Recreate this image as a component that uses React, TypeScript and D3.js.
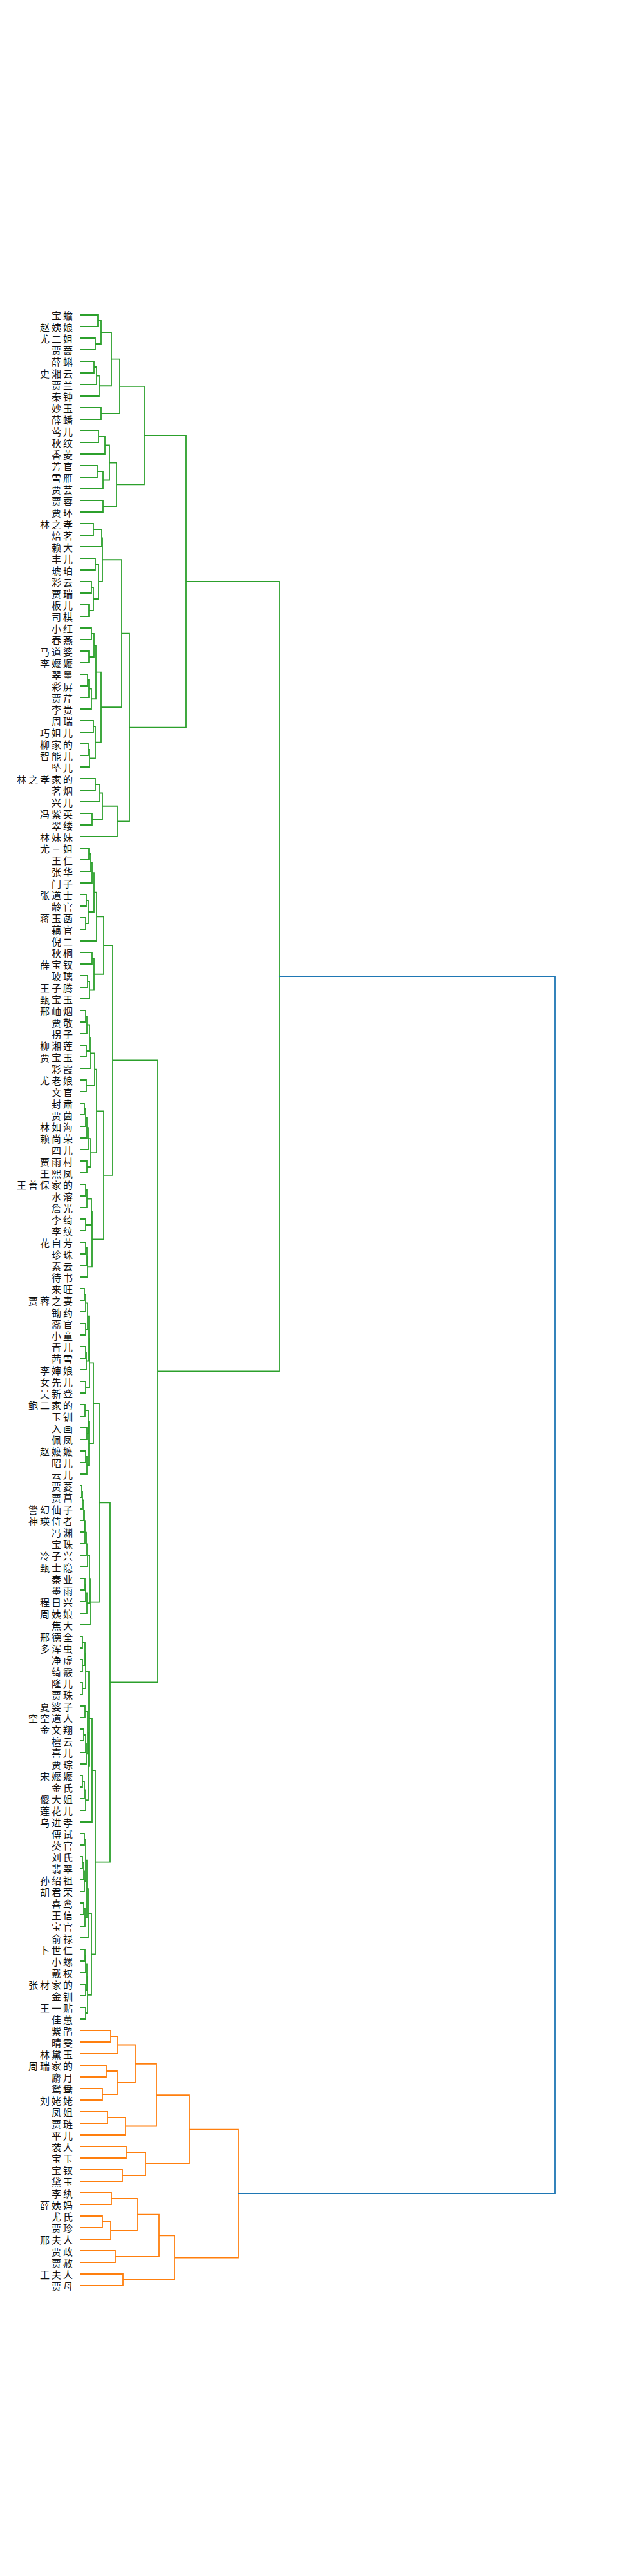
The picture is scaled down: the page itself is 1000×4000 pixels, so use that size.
import React from "react";
import * as d3 from "d3";

type Node = number | [number, Node, Node];

// leaf labels, top to bottom
const leaves = [
  "宝蟾", "赵姨娘", "尤二姐", "贾蔷", "薛蝌", "史湘云", "贾兰", "秦钟", "妙玉", "薛蟠",
  "莺儿", "秋纹", "香菱", "芳官", "雪雁", "贾芸", "贾蓉", "贾环", "林之孝", "焙茗",
  "赖大", "丰儿", "琥珀", "彩云", "贾瑞", "板儿", "司棋", "小红", "春燕", "马道婆",
  "李嬷嬷", "翠墨", "彩屏", "贾芹", "李贵", "周瑞", "巧姐儿", "柳家的", "智能儿", "坠儿",
  "林之孝家的", "茗烟", "兴儿", "冯紫英", "翠缕", "林妹妹", "尤三姐", "王仁", "张华", "门子",
  "张道士", "龄官", "蒋玉菡", "藕官", "倪二", "秋桐", "薛宝钗", "玻璃", "王子腾", "甄宝玉",
  "邢岫烟", "贾敬", "拐子", "柳湘莲", "贾宝玉", "彩霞", "尤老娘", "文官", "封肃", "贾菌",
  "林如海", "赖尚荣", "四儿", "贾雨村", "王熙凤", "王善保家的", "水溶", "詹光", "李绮", "李纹",
  "花自芳", "珍珠", "素云", "待书", "来旺", "贾蓉之妻", "锄药", "蕊官", "小童", "青儿",
  "茜雪", "李婶娘", "女先儿", "吴新登", "鲍二家的", "玉钏", "入画", "佩凤", "赵嬷嬷", "昭儿",
  "云儿", "贾菱", "贾菖", "警幻仙子", "神瑛侍者", "冯渊", "宝珠", "冷子兴", "甄士隐", "秦业",
  "墨雨", "程日兴", "周姨娘", "焦大", "邢德全", "多浑虫", "净虚", "绮霰", "隆儿", "贾珠",
  "夏婆子", "空空道人", "金文翔", "檀云", "喜儿", "贾琮", "宋嬷嬷", "金氏", "傻大姐", "莲花儿",
  "乌进孝", "傅试", "葵官", "刘氏", "翡翠", "孙绍祖", "胡君荣", "喜鸾", "王信", "宝官",
  "俞禄", "卜世仁", "小螺", "戴权", "张材家的", "金钏", "王一贴", "佳蕙", "紫鹃", "晴雯",
  "林黛玉", "周瑞家的", "麝月", "鸳鸯", "刘姥姥", "凤姐", "贾琏", "平儿", "袭人", "宝玉",
  "宝钗", "黛玉", "李纨", "薛姨妈", "尤氏", "贾珍", "邢夫人", "贾政", "贾赦", "王夫人",
  "贾母",
];

// merges: [distance, left, right], leaves by index
const partA: Node = [0.99,
  [0.61,
    [0.48, [0.32, [0.27, 0, 1], [0.23, 2, 3]], [0.29, [0.25, [0.21, 4, 5], 6], 7]],
    [0.32, 8, 9]],
  [0.56,
    [0.45, [0.38, [0.28, 10, 11], 12], [0.35, [0.26, 13, 14], 15]],
    [0.35, 16, 17]]];

const partB: Node = [0.76,
  [0.64,
    [0.34,
      [0.33, [0.20, 18, 19], 20],
      [0.28, [0.23, 21, 22], [0.20, [0.17, 23, 24], [0.13, 25, 26]]]],
    [0.32,
      [0.24, [0.21, [0.17, 27, 28], [0.13, 29, 30]], [0.17, [0.13, [0.11, 31, 32], 33], 34]],
      [0.23, [0.20, 35, 36], [0.14, [0.12, 37, 38], 39]]]],
  [0.57, [0.34, [0.30, [0.23, 40, 41], 42], [0.18, 43, 44]], 45]];

const partC: Node = [0.36,
  [0.25,
    [0.21,
      [0.18, [0.16, [0.13, 46, 47], 48], 49],
      [0.12, [0.09, 50, 51], [0.08, 52, 53]]],
    54],
  [0.21, [0.18, 55, 56], [0.14, [0.11, 57, 58], 59]]];

const partD: Node = [0.36,
  [0.25,
    [0.22,
      [0.15, [0.14, [0.10, [0.08, 60, 61], 62], [0.09, 63, 64]], 65],
      [0.09, 66, 67]],
    [0.16, [0.12, [0.10, [0.08, [0.06, 68, 69], 70], 71], 72], [0.10, 73, 74]]],
  [0.18,
    [0.17, [0.10, [0.08, 75, 76], 77], [0.08, 78, 79]],
    [0.11, [0.10, [0.08, 80, 81], 82], 83]]];

const partE: Node = [0.29,
  [0.20,
    [0.14,
      [0.13, [0.11, [0.08, [0.06, 84, 85], 86], [0.08, 87, 88]], [0.09, [0.08, 89, 90], 91]],
      [0.08, 92, 93]],
    [0.13, [0.12, [0.07, 94, 95], [0.10, 96, 97]], [0.10, [0.08, 98, 99], 100]]],
  [0.15,
    [0.14,
      [0.11, [0.09, [0.07, [0.06, [0.05, [0.03, [0.02, 101, 102], 103], 104], 105], 106], 107], 108],
      [0.10, [0.08, [0.07, 109, 110], 111], 112]],
    113]];

const partF: Node = [0.23,
  [0.18,
    [0.13,
      [0.08, [0.07, [0.03, 114, 115], [0.03, 116, 117]], [0.03, 118, 119]],
      [0.12,
        [0.11, [0.07, 120, 121], [0.09, [0.08, [0.05, 122, 123], 124], 125]],
        [0.08, [0.06, [0.03, 126, 127], 128], 129]]],
    130],
  [0.17,
    [0.12,
      [0.10,
        [0.08, [0.06, 131, 132], [0.06, [0.05, [0.03, 133, 134], 135], 136]],
        [0.07, [0.05, 137, 138], 139]],
      140],
    [0.11, [0.10, [0.08, [0.07, 141, 142], 143], [0.08, 144, 145]], [0.08, 146, 147]]]];

const partG: Node = [2.45,
  [1.69,
    [1.18,
      [0.85, [0.58, [0.47, 148, 149], 150], [0.57, [0.40, 151, 152], [0.34, 153, 154]]],
      [0.70, [0.42, 155, 156], 157]],
    [1.01, [0.71, 158, 159], [0.65, 160, 161]]],
  [1.46,
    [1.22, [0.88, [0.48, 162, 163], [0.47, [0.34, 164, 165], 166]], [0.54, 167, 168]],
    [0.66, 169, 170]]];

const green: Node = [3.09,
  [1.64, partA, partB],
  [1.20, [0.50, partC, partD], [0.46, partE, partF]]];

const root: Node = [7.37, green, partG];

const clusterColors = ["#2ca02c", "#ff7f0e"];
const aboveColor = "#1f77b4";
const colorThreshold = 5.16;

export default function App() {
  const w = 1000;
  const h = 4000;
  const x = d3.scaleLinear().domain([0, 7.37]).range([125, 862]);
  const y = d3.scalePoint<string>().domain(leaves).range([489, 3549]);

  const links: { d: string; c: string }[] = [];
  let k = -1;
  const walk = (n: Node, col: string | null): { h: number; y: number } => {
    if (typeof n === "number") return { h: 0, y: y(leaves[n]) as number };
    const [d, a, b] = n;
    let c = col;
    if (c === null && d < colorThreshold) c = clusterColors[++k];
    const L = walk(a, c);
    const R = walk(b, c);
    links.push({
      d: `M${x(L.h)},${L.y}H${x(d)}V${R.y}H${x(R.h)}`,
      c: c ?? aboveColor,
    });
    return { h: d, y: (L.y + R.y) / 2 };
  };
  walk(root, null);

  return (
    <svg
      width={w}
      height={h}
      style={{ position: "absolute", left: 0, top: 0, background: "#fff" }}
    >
      <g fill="none" strokeWidth={1.8}>
        {links.map((l, i) => (
          <path key={i} d={l.d} stroke={l.c} />
        ))}
      </g>
      <g
        fontFamily="'Noto Sans CJK SC', sans-serif"
        fontSize={15}
        letterSpacing={3}
        fill="#111"
        textAnchor="end"
      >
        {leaves.map((name) => (
          <text key={name} x={116} y={y(name)} dominantBaseline="central">
            {name}
          </text>
        ))}
      </g>
    </svg>
  );
}
